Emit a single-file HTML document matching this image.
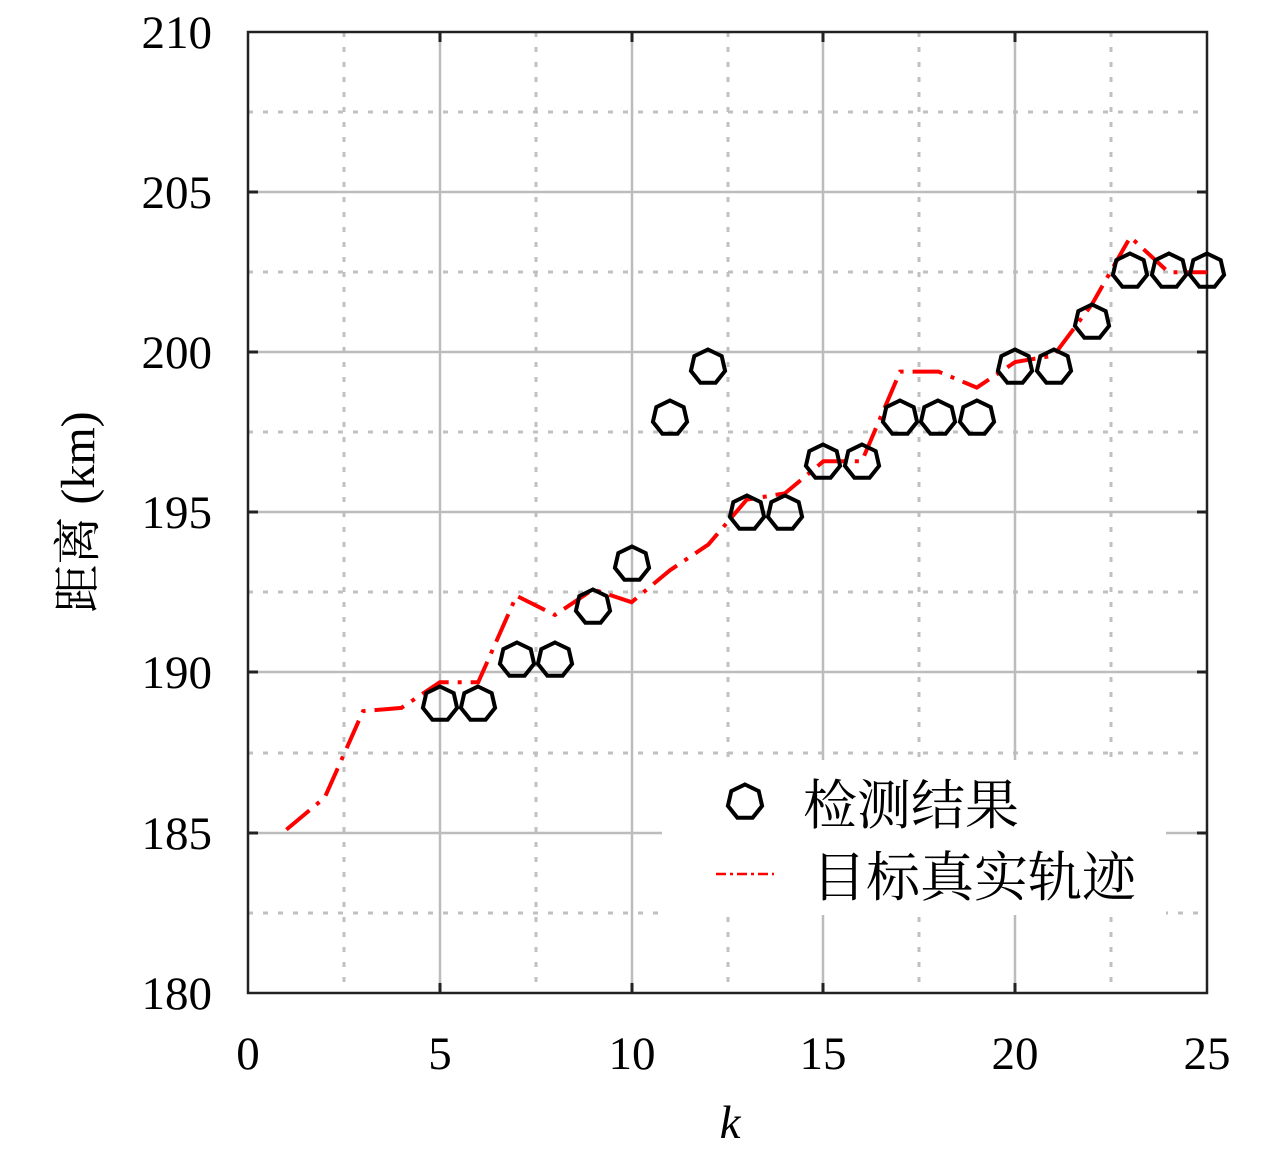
<!DOCTYPE html>
<html><head><meta charset="utf-8"><style>body{margin:0;background:#fff}</style></head><body>
<svg width="1280" height="1156" xmlns="http://www.w3.org/2000/svg">
<defs>
<polygon id="hp" points="0,-17.5 13.7,-10.9 17.1,3.9 7.6,15.8 -7.6,15.8 -17.1,3.9 -13.7,-10.9" fill="none" stroke="#000" stroke-width="4"/>
</defs>
<g stroke="#c0c0c0" stroke-width="3" stroke-dasharray="5,10">
<line x1="344" y1="32" x2="344" y2="993"/><line x1="536" y1="32" x2="536" y2="993"/><line x1="728" y1="32" x2="728" y2="993"/><line x1="919" y1="32" x2="919" y2="993"/><line x1="1111" y1="32" x2="1111" y2="993"/>
<line x1="248" y1="112" x2="1207" y2="112"/><line x1="248" y1="272" x2="1207" y2="272"/><line x1="248" y1="432" x2="1207" y2="432"/><line x1="248" y1="592" x2="1207" y2="592"/><line x1="248" y1="753" x2="1207" y2="753"/><line x1="248" y1="913" x2="1207" y2="913"/>
</g>
<g stroke="#bcbcbc" stroke-width="2.5">
<line x1="440" y1="32" x2="440" y2="993"/><line x1="632" y1="32" x2="632" y2="993"/><line x1="823" y1="32" x2="823" y2="993"/><line x1="1015" y1="32" x2="1015" y2="993"/>
<line x1="248" y1="192" x2="1207" y2="192"/><line x1="248" y1="352" x2="1207" y2="352"/><line x1="248" y1="512" x2="1207" y2="512"/><line x1="248" y1="672" x2="1207" y2="672"/><line x1="248" y1="833" x2="1207" y2="833"/>
</g>
<rect x="662" y="760" width="504" height="155" fill="#fff"/>
<rect x="248" y="32" width="959" height="961" fill="none" stroke="#222" stroke-width="2.5"/>
<g stroke="#222" stroke-width="3">
<line x1="248" y1="192" x2="258" y2="192"/><line x1="248" y1="352" x2="258" y2="352"/><line x1="248" y1="512" x2="258" y2="512"/><line x1="248" y1="672" x2="258" y2="672"/><line x1="248" y1="833" x2="258" y2="833"/>
<line x1="1207" y1="192" x2="1197" y2="192"/><line x1="1207" y1="352" x2="1197" y2="352"/><line x1="1207" y1="512" x2="1197" y2="512"/><line x1="1207" y1="672" x2="1197" y2="672"/><line x1="1207" y1="833" x2="1197" y2="833"/>
<line x1="440" y1="993" x2="440" y2="983"/><line x1="632" y1="993" x2="632" y2="983"/><line x1="823" y1="993" x2="823" y2="983"/><line x1="1015" y1="993" x2="1015" y2="983"/>
<line x1="440" y1="32" x2="440" y2="42"/><line x1="632" y1="32" x2="632" y2="42"/><line x1="823" y1="32" x2="823" y2="42"/><line x1="1015" y1="32" x2="1015" y2="42"/>
</g>
<polyline fill="none" stroke="#f00" stroke-width="4" stroke-dasharray="30,9,4,9" points="286.4,829.6 324.7,797.6 363.1,711.1 401.4,707.9 439.8,682.3 478.2,682.3 516.5,595.8 554.9,615 593.2,589.4 631.6,602.2 670,570.2 708.3,544.6 746.7,499.7 785,493.3 823.4,461.3 861.8,461.3 900.1,371.6 938.5,371.6 976.8,387.6 1015.2,362 1053.6,355.6 1091.9,304.4 1130.3,237 1168.6,272.3 1207,272.3"/>
<g>
<use href="#hp" x="440" y="704"/><use href="#hp" x="478" y="704"/><use href="#hp" x="517" y="660"/><use href="#hp" x="555" y="660"/><use href="#hp" x="593" y="607"/><use href="#hp" x="632" y="564"/><use href="#hp" x="670" y="418"/><use href="#hp" x="708" y="367"/><use href="#hp" x="747" y="513"/><use href="#hp" x="785" y="513"/><use href="#hp" x="823" y="462"/><use href="#hp" x="862" y="462"/><use href="#hp" x="900" y="418"/><use href="#hp" x="938" y="418"/><use href="#hp" x="977" y="418"/><use href="#hp" x="1015" y="367"/><use href="#hp" x="1054" y="367"/><use href="#hp" x="1092" y="322"/><use href="#hp" x="1130" y="271"/><use href="#hp" x="1169" y="271"/><use href="#hp" x="1207" y="271"/>
<use href="#hp" x="745" y="802"/>
</g>
<line x1="716" y1="874" x2="774" y2="874" stroke="#f00" stroke-width="2.5" stroke-dasharray="10,4,3,4"/>
<g font-family="'Liberation Serif','Noto Serif CJK SC',serif" font-size="54" fill="#000">
<text x="803" y="824">检测结果</text>
<text x="812" y="896">目标真实轨迹</text>
</g>
<g font-family="'Liberation Serif',serif" font-size="47" fill="#000" text-anchor="end">
<text x="212" y="48">210</text><text x="212" y="208">205</text><text x="212" y="368">200</text><text x="212" y="528">195</text><text x="212" y="688">190</text><text x="212" y="849">185</text><text x="212" y="1009">180</text>
</g>
<g font-family="'Liberation Serif',serif" font-size="47" fill="#000" text-anchor="middle">
<text x="248" y="1069">0</text><text x="440" y="1069">5</text><text x="632" y="1069">10</text><text x="823" y="1069">15</text><text x="1015" y="1069">20</text><text x="1207" y="1069">25</text>
<text x="730" y="1138" font-style="italic">k</text>
</g>
<text transform="translate(94,512) rotate(-90)" text-anchor="middle" font-family="'Liberation Serif','Noto Serif CJK SC',serif" font-size="48" fill="#000">距离 (km)</text>
</svg>
</body></html>
